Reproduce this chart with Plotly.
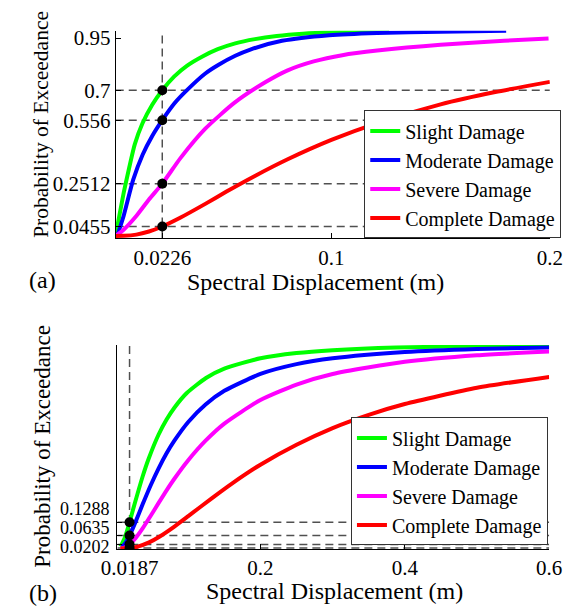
import plotly.graph_objects as go

# ---------------- data: panel (a) ----------------
a_slight_x = [0.0013, 0.003, 0.005, 0.0075, 0.010, 0.0135, 0.018, 0.0226, 0.028, 0.034, 0.041, 0.048, 0.056, 0.065, 0.075, 0.087, 0.1, 0.115, 0.1264]
a_slight_y = [0.005, 0.10, 0.21, 0.33, 0.44, 0.54, 0.63, 0.70, 0.765, 0.818, 0.862, 0.897, 0.925, 0.945, 0.960, 0.971, 0.978, 0.983, 0.986]
a_moderate_x = [0.002, 0.0049, 0.0093, 0.0136, 0.018, 0.0226, 0.0282, 0.0339, 0.0423, 0.0484, 0.056, 0.0629, 0.0774, 0.099, 0.121, 0.15, 0.18]
a_moderate_y = [0.001, 0.096, 0.27, 0.39, 0.48, 0.556, 0.637, 0.70, 0.78, 0.822, 0.865, 0.895, 0.937, 0.964, 0.975, 0.981, 0.985]
a_severe_x = [0.0013, 0.0049, 0.0107, 0.0165, 0.0226, 0.031, 0.0423, 0.0557, 0.0701, 0.08, 0.0919, 0.105, 0.121, 0.15, 0.179, 0.1994]
a_severe_y = [0.0, 0.03, 0.096, 0.175, 0.2512, 0.375, 0.515, 0.64, 0.74, 0.795, 0.838, 0.868, 0.89, 0.918, 0.937, 0.948]
a_complete_x = [0.0013, 0.005, 0.0107, 0.0165, 0.0226, 0.031, 0.0423, 0.052, 0.065, 0.08, 0.1, 0.121, 0.15, 0.175, 0.2]
a_complete_y = [0.0, 0.0005, 0.0064, 0.0214, 0.0455, 0.0885, 0.154, 0.213, 0.288, 0.368, 0.461, 0.542, 0.632, 0.691, 0.74]
a_sd = 0.0226
a_probs = [0.7, 0.556, 0.2512, 0.0455]
a_xticks = [0.0226, 0.1, 0.2]
a_xtick_text = ["0.0226", "0.1", "0.2"]
a_yticks = [0.0455, 0.2512, 0.556, 0.7, 0.95]
a_ytick_text = ["0.0455", "0.2512", "0.556", "0.7", "0.95"]
a_xrange = [0.0013, 0.2]
a_yrange = [-0.012, 0.985]

# ---------------- data: panel (b) ----------------
b_slight_x = [0.0062, 0.012, 0.0187, 0.025, 0.0368, 0.045, 0.0588, 0.07, 0.0808, 0.098, 0.1246, 0.15, 0.2, 0.25, 0.3, 0.388, 0.5, 0.6]
b_slight_y = [0.009, 0.052, 0.1288, 0.21, 0.354, 0.44, 0.559, 0.634, 0.692, 0.764, 0.838, 0.884, 0.935, 0.961, 0.975, 0.988, 0.994, 0.997]
b_moderate_x = [0.0084, 0.012, 0.0187, 0.027, 0.0368, 0.048, 0.0588, 0.07, 0.0808, 0.1, 0.124, 0.15, 0.2, 0.25, 0.3, 0.4, 0.5, 0.6]
b_moderate_y = [0.008, 0.022, 0.0635, 0.131, 0.217, 0.311, 0.393, 0.468, 0.53, 0.622, 0.708, 0.775, 0.858, 0.906, 0.935, 0.966, 0.981, 0.9885]
b_severe_x = [0.006, 0.012, 0.0187, 0.027, 0.0368, 0.048, 0.0588, 0.07, 0.0808, 0.1, 0.124, 0.15, 0.2, 0.25, 0.3, 0.4, 0.5, 0.6]
b_severe_y = [0.0004, 0.005, 0.0202, 0.051, 0.099, 0.161, 0.223, 0.286, 0.343, 0.434, 0.53, 0.614, 0.73, 0.806, 0.858, 0.918, 0.95, 0.968]
b_complete_x = [0.006, 0.0187, 0.03, 0.0457, 0.06, 0.0808, 0.1, 0.133, 0.16, 0.2, 0.25, 0.3, 0.35, 0.4, 0.5, 0.6]
b_complete_y = [0.0, 0.002, 0.0094, 0.030, 0.058, 0.108, 0.159, 0.248, 0.318, 0.412, 0.51, 0.592, 0.657, 0.71, 0.79, 0.843]
b_sd = 0.0187
b_probs = [0.1288, 0.0635, 0.0202, 0.002]
b_xticks = [0.0187, 0.2, 0.4, 0.6]
b_xtick_text = ["0.0187", "0.2", "0.4", "0.6"]
b_yticks = [0.0202, 0.0635, 0.1288]
b_ytick_text = ["0.0202", "0.0635", "0.1288"]
b_xrange = [0.0018, 0.6]
b_yrange = [-0.002, 1.0]

names = ["Slight Damage", "Moderate Damage", "Severe Damage", "Complete Damage"]
colors = ["#00ff00", "#0000ff", "#ff00ff", "#ff0000"]

W, H = 579, 610
def px(v):
    return v / W
def py(v):
    return 1 - v / H

FONT = "Liberation Serif"
DASH_COLOR = "#505050"
DASH = "8px,5px"

fig = go.Figure()

def add_panel(curves, sd, probs, xr, yr, xa, ya, legend):
    # reference dashed lines
    fig.add_trace(go.Scatter(x=[sd, sd], y=[yr[0], yr[1]], mode="lines",
                             line=dict(color=DASH_COLOR, width=1.5, dash=DASH),
                             showlegend=False, hoverinfo="skip", xaxis=xa, yaxis=ya))
    for p in probs:
        fig.add_trace(go.Scatter(x=[xr[0], xr[1]], y=[p, p], mode="lines",
                                 line=dict(color=DASH_COLOR, width=1.5, dash=DASH),
                                 showlegend=False, hoverinfo="skip", xaxis=xa, yaxis=ya))
    for (cx, cy), name, col in zip(curves, names, colors):
        fig.add_trace(go.Scatter(x=cx, y=cy, mode="lines", name=name,
                                 line=dict(color=col, width=4, shape="spline", smoothing=0.6),
                                 legend=legend, xaxis=xa, yaxis=ya))
    fig.add_trace(go.Scatter(x=[sd] * len(probs), y=probs, mode="markers",
                             marker=dict(color="black", size=10),
                             showlegend=False, xaxis=xa, yaxis=ya))

add_panel([(a_slight_x, a_slight_y), (a_moderate_x, a_moderate_y),
           (a_severe_x, a_severe_y), (a_complete_x, a_complete_y)],
          a_sd, a_probs, a_xrange, a_yrange, "x", "y", "legend")
add_panel([(b_slight_x, b_slight_y), (b_moderate_x, b_moderate_y),
           (b_severe_x, b_severe_y), (b_complete_x, b_complete_y)],
          b_sd, b_probs, b_xrange, b_yrange, "x2", "y2", "legend2")

axis_common = dict(showline=True, linecolor="black", linewidth=1, showgrid=False,
                   zeroline=False, ticks="inside", ticklen=5, tickcolor="black",
                   tickfont=dict(size=21, family=FONT, color="black"))

legend_common = dict(bgcolor="white", bordercolor="#333333", borderwidth=1,
                     font=dict(size=20, family=FONT, color="black"),
                     itemwidth=30, tracegroupgap=0, xanchor="right", yanchor="bottom")

fig.update_layout(
    width=W, height=H, margin=dict(l=0, r=0, t=0, b=0),
    paper_bgcolor="white", plot_bgcolor="white",
    font=dict(family=FONT, color="black"),
    xaxis=dict(domain=[px(105), px(562)], range=a_xrange, tickvals=a_xticks,
               ticktext=a_xtick_text, anchor="y", **axis_common),
    yaxis=dict(domain=[py(236), py(27)], range=a_yrange, tickvals=a_yticks,
               ticktext=a_ytick_text, anchor="x", **axis_common),
    xaxis2=dict(domain=[px(106.7), px(561.3)], range=b_xrange, tickvals=b_xticks,
                ticktext=b_xtick_text, anchor="y2", **axis_common),
    yaxis2=dict(domain=[py(548.5), py(343.3)], range=b_yrange, tickvals=b_yticks,
                showticklabels=False, anchor="x2", **axis_common),
    legend=dict(x=px(574), y=py(236), **legend_common),
    legend2=dict(x=px(560), y=py(545), **legend_common),
    showlegend=True,
)

ann = []
ann.append(dict(text="Probability of Exceedance", x=px(27), y=py(121), xref="paper", yref="paper",
                textangle=-90, showarrow=False, font=dict(size=21.5, family=FONT, color="black"),
                xanchor="center", yanchor="middle"))
ann.append(dict(text="Probability of Exceedance", x=px(27), y=py(445), xref="paper", yref="paper",
                textangle=-90, showarrow=False, font=dict(size=23, family=FONT, color="black"),
                xanchor="center", yanchor="middle"))
ann.append(dict(text="Spectral Displacement (m)", x=px(315), y=py(280), xref="paper", yref="paper",
                showarrow=False, font=dict(size=24, family=FONT, color="black"),
                xanchor="center", yanchor="middle"))
ann.append(dict(text="Spectral Displacement (m)", x=px(335), y=py(591), xref="paper", yref="paper",
                showarrow=False, font=dict(size=24, family=FONT, color="black"),
                xanchor="center", yanchor="middle"))
ann.append(dict(text="(a)", x=px(28), y=py(278), xref="paper", yref="paper",
                showarrow=False, font=dict(size=24, family=FONT, color="black"), xanchor="center", yanchor="middle"))
ann.append(dict(text="(b)", x=px(28), y=py(593), xref="paper", yref="paper",
                showarrow=False, font=dict(size=24, family=FONT, color="black"), xanchor="center", yanchor="middle"))
# panel (b) tick labels, spread apart so that they do not overlap
for txt, ypix in zip(b_ytick_text, [547, 527.5, 508]):
    ann.append(dict(text=txt, x=px(100), y=py(ypix), xref="paper", yref="paper",
                    showarrow=False, font=dict(size=18, family=FONT, color="black"),
                    xanchor="right", yanchor="middle", borderpad=0))
fig.update_layout(annotations=ann)

fig.write_html("out.html")
